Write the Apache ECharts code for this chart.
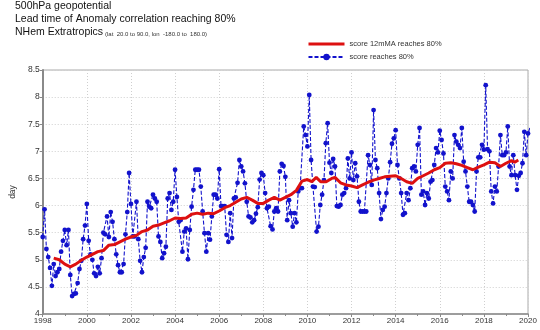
<!DOCTYPE html>
<html>
<head>
<meta charset="utf-8">
<script src="https://cdn.jsdelivr.net/npm/echarts@6/dist/echarts.min.js"></script>
<style>
html,body{margin:0;padding:0;background:#fff;}
#chart{width:540px;height:330px;}
</style>
</head>
<body>
<div id="chart"></div>
<script>
// Monthly values, starting January 1998
const startYear = 1998;
const scoreReaches = [
  5.42, 5.93, 5.2, 5.05, 4.85, 4.52, 4.92, 4.7, 4.77, 4.83, 5.15, 5.35,
  5.55, 5.27, 5.55, 4.72, 4.33, 4.37, 4.38, 4.57, 4.83, 4.98, 5.38, 5.63,
  6.03, 5.35, 5.1, 5.0, 4.75, 4.7, 4.87, 4.75, 5.03, 5.5, 5.47, 5.8,
  5.42, 5.88, 5.7, 5.38, 5.1, 4.9, 4.77, 4.77, 4.92, 5.47, 5.88, 6.6,
  6.03, 5.43, 5.43, 6.07, 5.38, 4.98, 4.77, 5.05, 5.22, 6.07, 5.98, 5.95,
  6.2, 6.13, 6.07, 5.43, 5.33, 5.03, 5.12, 5.24, 6.13, 6.23, 5.92, 6.07,
  6.66, 6.16, 5.7, 5.73, 5.15, 5.52, 5.58, 5.01, 5.55, 5.98, 6.29, 6.66,
  6.66, 6.66, 6.35, 5.89, 5.49, 5.15, 5.49, 5.37, 5.8, 6.2, 6.2, 6.13,
  6.67, 5.99, 5.99, 5.99, 5.46, 5.33, 5.86, 5.4, 6.13, 6.15, 6.42, 6.84,
  6.72, 6.63, 6.41, 6.07, 5.8, 5.78, 5.69, 5.73, 5.85, 5.97, 6.48, 6.6,
  6.56, 6.23, 5.95, 5.98, 5.62, 5.56, 5.89, 5.95, 5.89, 6.63, 6.77, 6.73,
  6.53, 5.73, 6.1, 5.86, 5.61, 5.86, 5.69, 6.26, 6.32, 6.32, 7.46, 7.3,
  7.09, 8.04, 6.84, 6.35, 6.34, 5.52, 5.61, 6.01, 6.2, 6.47, 7.15, 7.52,
  6.79, 6.6, 6.86, 6.72, 5.99, 5.98, 6.01, 6.2, 6.23, 6.32, 6.87, 6.5,
  6.98, 6.47, 6.78, 6.54, 6.07, 5.89, 5.89, 5.89, 5.89, 6.93, 6.75, 6.38,
  7.76, 6.84, 6.69, 6.23, 5.75, 5.92, 5.98, 6.23, 6.5, 6.8, 7.14, 7.24,
  7.39, 6.75, 6.5, 6.23, 5.83, 5.86, 6.23, 6.1, 6.32, 6.69, 6.72, 6.63,
  7.12, 7.43, 6.2, 6.26, 6.01, 6.23, 6.13, 6.44, 6.47, 6.75, 7.06, 6.98,
  7.38, 7.21, 6.96, 6.35, 6.26, 6.1, 6.63, 6.5, 7.3, 7.18, 7.12, 7.06,
  7.43, 6.81, 6.63, 6.35, 6.07, 6.07, 6.01, 5.89, 6.63, 6.89, 6.89, 7.12,
  7.03, 8.22, 7.04, 7.0, 6.26, 6.04, 6.35, 6.26, 6.72, 7.3, 6.93, 6.93,
  6.98, 7.46, 6.72, 6.56, 6.93, 6.56, 6.29, 6.55, 6.6, 6.78, 7.36, 6.93,
  7.33, 7.43
];

// 12-month moving average
const maYears = [
  1998.5, 1998.75, 1999.0, 1999.25, 1999.5, 1999.75, 2000.0, 2000.25, 2000.5, 2000.75,
  2001.0, 2001.25, 2001.5, 2001.75, 2002.0, 2002.25, 2002.5, 2002.75, 2003.0, 2003.25,
  2003.5, 2003.75, 2004.0, 2004.25, 2004.5, 2004.75, 2005.0, 2005.25, 2005.5, 2005.75,
  2006.0, 2006.25, 2006.5, 2006.75, 2007.0, 2007.25, 2007.5, 2007.75, 2008.0, 2008.25,
  2008.5, 2008.75, 2009.0, 2009.25, 2009.5, 2009.75, 2010.0, 2010.2, 2010.4, 2010.6,
  2010.85, 2011.1, 2011.25, 2011.5, 2011.75, 2012.0, 2012.25, 2012.5, 2012.75, 2013.0,
  2013.25, 2013.5, 2013.75, 2014.0, 2014.25, 2014.5, 2014.75, 2015.0, 2015.25, 2015.5,
  2015.75, 2016.0, 2016.25, 2016.5, 2016.75, 2017.0, 2017.25, 2017.5, 2017.75, 2018.0,
  2018.25, 2018.5, 2018.75, 2019.0, 2019.25, 2019.4, 2019.56
];
const maValues = [
  5.03, 5.0, 4.92, 4.87, 4.92, 4.99, 5.05, 5.1, 5.15, 5.17,
  5.27, 5.28, 5.33, 5.38, 5.42, 5.45, 5.52, 5.55, 5.62, 5.64,
  5.68, 5.72, 5.77, 5.76, 5.77, 5.84, 5.86, 5.84, 5.86, 5.85,
  5.9, 5.96, 6.0, 6.06, 6.12, 6.15, 6.1, 6.04, 6.04, 6.1,
  6.15, 6.1, 6.15, 6.2, 6.28, 6.45, 6.48, 6.44, 6.52, 6.44,
  6.44, 6.5, 6.52, 6.42, 6.38, 6.36, 6.33, 6.38, 6.43, 6.47,
  6.5, 6.53, 6.54, 6.55, 6.5, 6.44, 6.41, 6.5, 6.55, 6.6,
  6.66, 6.7, 6.78, 6.79, 6.77, 6.74, 6.7, 6.66, 6.71, 6.75,
  6.8, 6.79, 6.72, 6.78, 6.83, 6.8, 6.84
];

const yTicks = { min: 4, max: 8.5, step: 0.5 };
const xTicks = { min: 1998, max: 2020, step: 2 };

const blueData = scoreReaches.map((v, i) => [startYear + i / 12, v]);
const redData = maYears.map((y, i) => [y, maValues[i]]);

const FONT = '"Liberation Sans", Arial, sans-serif';
const RED = '#dd1010';
const BLUE = '#1212cc';
const chart = echarts.init(document.getElementById('chart'), null, { renderer: 'canvas' });
chart.setOption({
  animation: false,
  backgroundColor: '#ffffff',
  textStyle: { fontFamily: FONT },
  graphic: [
    { type: 'text', left: 15, top: 1, style: { text: '500hPa geopotential', font: '10.5px ' + FONT, fill: '#111' } },
    { type: 'text', left: 15, top: 14, style: { text: 'Lead time of Anomaly correlation reaching 80%', font: '10.5px ' + FONT, fill: '#111' } },
    { type: 'text', left: 15, top: 27, style: { text: 'NHem Extratropics', font: '10.5px ' + FONT, fill: '#111' } },
    { type: 'text', left: 105, top: 31, style: { text: '(lat  20.0 to 90.0, lon  -180.0 to  180.0)', font: '6px ' + FONT, fill: '#333' } }
  ],
  legend: {
    orient: 'vertical',
    left: 307,
    top: 40,
    padding: 0,
    itemWidth: 36,
    itemHeight: 8,
    itemGap: 5,
    data: [
      { name: 'score 12mMA reaches 80%', itemStyle: { opacity: 0 }, lineStyle: { width: 3, color: RED } },
      { name: 'score reaches 80%', itemStyle: { color: BLUE } }
    ],
    textStyle: { fontSize: 7.5, color: '#333', fontFamily: FONT }
  },
  grid: {
    left: 33, right: 12, top: 70, bottom: 16,
    show: true, borderColor: '#aaaaaa', borderWidth: 1
  },
  xAxis: {
    type: 'value',
    min: xTicks.min, max: xTicks.max, interval: xTicks.step,
    axisLine: { show: true, onZero: false, lineStyle: { color: '#8a8a8a', width: 1.5 } },
    axisTick: { show: true, length: 3, lineStyle: { color: '#8a8a8a' } },
    minorTick: { show: true, splitNumber: 2, length: 2, lineStyle: { color: '#8a8a8a' } },
    splitLine: { show: true, lineStyle: { color: '#cfcfcf', type: [1, 2], width: 1 } },
    axisLabel: { fontSize: 8, color: '#333', margin: 3, formatter: v => String(v) }
  },
  yAxis: {
    type: 'value',
    min: yTicks.min, max: yTicks.max, interval: yTicks.step,
    name: 'day', nameLocation: 'middle', nameGap: 24, nameRotate: 90,
    nameTextStyle: { fontSize: 8.5, color: '#333' },
    axisLine: { show: true, onZero: false, lineStyle: { color: '#8a8a8a', width: 2 } },
    axisTick: { show: true, length: 3, lineStyle: { color: '#8a8a8a' } },
    splitLine: { show: true, lineStyle: { color: '#cfcfcf', type: [1, 2], width: 1 } },
    axisLabel: { fontSize: 8.5, color: '#333', margin: 3 }
  },
  series: [
    {
      name: 'score 12mMA reaches 80%',
      type: 'line',
      data: redData,
      symbol: 'none',
      z: 4,
      color: RED,
      lineStyle: { color: RED, width: 3 }
    },
    {
      name: 'score reaches 80%',
      type: 'line',
      data: blueData,
      symbol: 'circle',
      symbolSize: 4.8,
      z: 3,
      color: BLUE,
      itemStyle: { color: BLUE },
      lineStyle: { color: BLUE, width: 1.1, type: [4, 2] }
    }
  ]
});
</script>
</body>
</html>
